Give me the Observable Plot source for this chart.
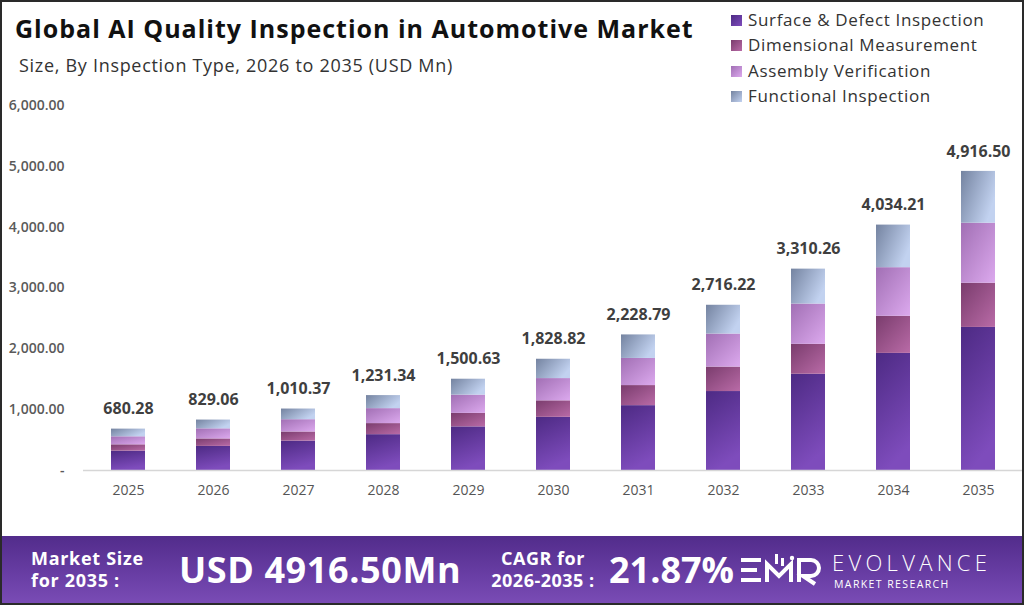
<!DOCTYPE html>
<html><head><meta charset="utf-8">
<script src="https://cdn.jsdelivr.net/npm/d3@7"></script>
<script src="https://cdn.jsdelivr.net/npm/@observablehq/plot@0.6"></script>
<style>
body{margin:0;background:#fff;font-family:"Open Sans",sans-serif}
#wrap{position:relative;width:1024px;height:605px;overflow:hidden;background:#fff}
#chart{position:absolute;left:0;top:0}
.abs{position:absolute;white-space:nowrap}
#title{left:15px;top:16px;font-size:25px;line-height:24px;font-weight:700;color:#111;letter-spacing:1px}
#sub{left:19px;top:57px;font-size:18px;line-height:17px;color:#333;letter-spacing:0.7px}
.leg{left:731px;font-size:17px;line-height:17px;color:#333;letter-spacing:0.65px}
.leg i{display:inline-block;width:11px;height:11px;margin-right:6px;vertical-align:0px}
#banner{left:0;top:536px;width:1024px;height:69px;background:linear-gradient(180deg,#522c8b 0%,#6a3fa6 60%,#7b4db6 100%)}
.bt{color:#fff;font-weight:700}
#frame{position:absolute;left:0;top:0;width:1024px;height:605px;box-sizing:border-box;border:2px solid #2a2a2a;pointer-events:none}
#brand{left:832px;top:18px;color:#fff;font-size:22px;line-height:16px;font-weight:300;letter-spacing:4.3px}
#mr{left:834px;top:44px;color:#fff;font-size:10.5px;line-height:8px;font-weight:400;letter-spacing:1.4px}
</style></head><body>
<div id="wrap">
  <div id="chart"></div>
  <div class="abs" id="title">Global AI Quality Inspection in Automotive Market</div>
  <div class="abs" id="sub">Size, By Inspection Type, 2026 to 2035 (USD Mn)</div>
  <div id="legend"></div>
  <div class="abs" id="banner">
    <div class="abs bt" style="left:31px;top:11px;font-size:18px;line-height:22px;letter-spacing:0.7px">Market Size<br>for 2035 :</div>
    <div class="abs bt" style="left:179px;top:12px;font-size:36px;line-height:44px;letter-spacing:0.6px">USD 4916.50Mn</div>
    <div class="abs bt" style="left:473px;top:11px;font-size:18px;line-height:22px;text-align:center;width:140px;letter-spacing:0.5px">CAGR for<br>2026-2035 :</div>
    <div class="abs bt" style="left:609px;top:12px;font-size:36px;line-height:44px">21.87%</div>
    <svg class="abs" style="left:739px;top:16px" width="95" height="34" viewBox="0 0 95 34">
      <g fill="none" stroke="#fff" stroke-width="4">
        <path d="M2 8 H22 M2 18 H18 M2 28 H22"/>
        <path d="M28 30 V12 L40 24 L52 12 V30"/>
        <path d="M60 30 V8 H72 A8 8 0 0 1 72 24 H64 L76 32"/>
      </g>
      <g fill="#fff"><rect x="36" y="2" width="3" height="10"/><rect x="42" y="6" width="3" height="8"/><circle cx="53" cy="6" r="2.2"/></g>
    </svg>
    <div class="abs" id="brand">EVOLVANCE</div>
    <div class="abs" id="mr">MARKET RESEARCH</div>
  </div>
  <div id="frame"></div>
</div>
<script>
const years = ["2025","2026","2027","2028","2029","2030","2031","2032","2033","2034","2035"];
const totals = [680.28, 829.06, 1010.37, 1231.34, 1500.63, 1828.82, 2228.79, 2716.22, 3310.26, 4034.21, 4916.50];
const types = ["Surface & Defect Inspection","Dimensional Measurement","Assembly Verification","Functional Inspection"];
const surface     = [318, 396, 483, 589, 717, 874, 1066, 1298, 1582, 1925, 2352];
const dimensional = [104, 123, 150, 182, 222, 271, 330, 402, 492, 610, 726];
const assembly    = [132, 166, 202, 246, 300, 366, 446, 543, 662, 799, 987];
const functional  = [126.28, 144.06, 175.37, 214.34, 261.63, 317.82, 386.79, 473.22, 574.26, 700.21, 851.50];
const yTicks = [0, 1000, 2000, 3000, 4000, 5000, 6000];

const gradIds = ["gS","gD","gA","gF"];
const seriesVals = [surface, dimensional, assembly, functional];
const rows = [];
years.forEach((y, i) => types.forEach((t, k) => rows.push({year: y, type: t, value: seriesVals[k][i]})));
const totalRows = years.map((y, i) => ({year: y, total: totals[i]}));
const fmt = d3.format(",.2f");

const chart = Plot.plot({
  width: 1024, height: 536,
  marginTop: 105, marginBottom: 66, marginLeft: 83, marginRight: 2,
  style: {fontFamily: "Open Sans", background: "transparent"},
  x: {domain: years, paddingInner: 0.6, paddingOuter: 0.3, label: null},
  y: {domain: [0, 6000], label: null},
  color: {domain: types, range: gradIds.map(id => `url(#${id})`)},
  marks: [
    Plot.axisY({ticks: yTicks, tickSize: 0, tickPadding: 19, fontSize: 14, fontWeight: 600, fill: "#5a5a5a",
      tickFormat: d => d === 0 ? "-" : fmt(d)}),
    Plot.axisX({tickSize: 0, tickPadding: 15, fontSize: 14, fill: "#555"}),
    Plot.barY(rows, {x: "year", y: "value", fill: "type"}),
    Plot.ruleY([0], {stroke: "#d6d6d6", strokeWidth: 1.5}),
    Plot.text(totalRows, {x: "year", y: "total", text: d => fmt(d.total), dy: -20, fontSize: 16, fontWeight: 700, fill: "#3f3f3f"})
  ]
});
const defs = d3.select(chart).insert("defs", ":first-child");
const gdefs = [
  ["gS", [0,0,0.3,1], ["#4d2a84","#7e4cbc"]],
  ["gD", [0,0,1,1], ["#7a3c6d","#b96ba7"]],
  ["gA", [0,0,1,1], ["#a16fb4","#dca9ee"]],
  ["gF", [0,0,1,0.5], ["#7483a0","#c2d2f0"]]
];
gdefs.forEach(([id, c, cols]) => {
  const g = defs.append("linearGradient").attr("id", id)
    .attr("x1", c[0]).attr("y1", c[1]).attr("x2", c[2]).attr("y2", c[3]);
  g.append("stop").attr("offset", "0").attr("stop-color", cols[0]);
  g.append("stop").attr("offset", "1").attr("stop-color", cols[1]);
});
document.getElementById("chart").appendChild(chart);

const legendCols = [["#4d2a84","#7e4cbc"],["#7a3c6d","#b96ba7"],["#a16fb4","#dca9ee"],["#7483a0","#c2d2f0"]];
const leg = document.getElementById("legend");
types.forEach((t, k) => {
  const d = document.createElement("div");
  d.className = "abs leg";
  d.style.top = (11 + k * 25.3) + "px";
  d.innerHTML = `<i style="background:linear-gradient(135deg,${legendCols[k][0]},${legendCols[k][1]})"></i>${t}`;
  leg.appendChild(d);
});
</script>
</body></html>
